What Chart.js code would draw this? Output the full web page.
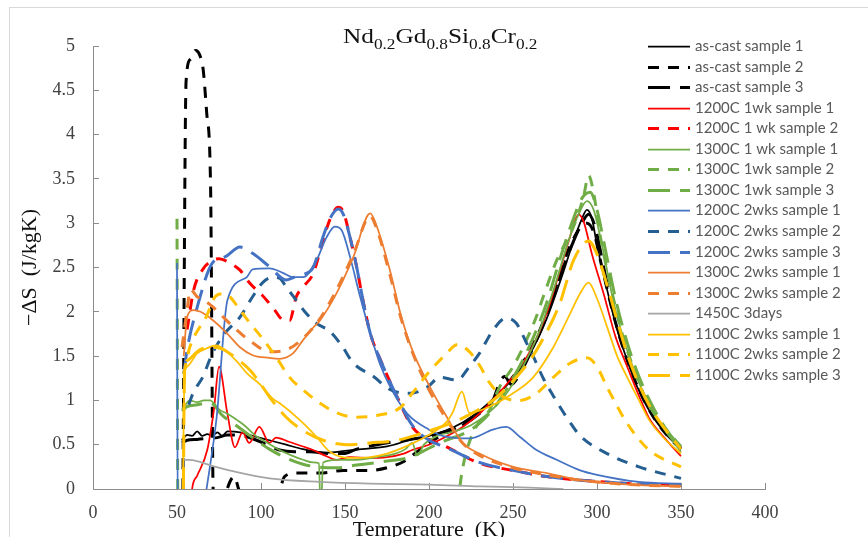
<!DOCTYPE html>
<html>
<head>
<meta charset="utf-8">
<script src="https://cdn.jsdelivr.net/npm/chart.js@4.4.1/dist/chart.umd.min.js"></script>
<style>
  html, body { margin: 0; padding: 0; background: #fff; }
  #wrap { width: 868px; height: 537px; }
</style>
</head>
<body>
<div id="wrap"><canvas id="myChart" width="868" height="537"></canvas></div>
<script>
// series names, in legend order
const seriesNames = [
  'as-cast sample 1', 'as-cast sample 2', 'as-cast sample 3',
  '1200C 1wk sample 1', '1200C 1 wk sample 2',
  '1300C 1 wk sample 1', '1300C 1wk sample 2', '1300C 1wk sample 3',
  '1200C 2wks sample 1', '1200C 2wks sample 2', '1200C 2wks sample 3',
  '1300C 2wks sample 1', '1300C 2wks sample 2',
  '1450C 3days',
  '1100C 2wks sample 1', '1100C 2wks sample 2', '1100C 2wks sample 3'
];

// [temperature K, -dS J/kgK]
const asCast1 = [[53,0.55],[56,0.61],[59,0.6],[62,0.65],[65,0.6],[68,0.62],[71,0.6],[74,0.64],[77,0.6],[80,0.65],[87.5,0.64],[95,0.6],[105,0.55],[115,0.5],[125,0.45],[139,0.41],[150,0.43],[160,0.45],[175,0.48],[190,0.56],[200,0.6],[210,0.66],[220,0.75],[230,0.88],[240,1.05],[250,1.25],[260,1.52],[270,1.92],[280,2.45],[286,2.8],[291,3.05],[294,3.15],[297,3.05],[300,2.75],[306,2.25],[312,1.8],[318,1.45],[324,1.15],[330,0.92],[340,0.64],[350,0.45]];
const asCast2 = [[53.5,0],[55.4,4.6],[58,4.85],[61,4.95],[63.5,4.9],[65.6,4.73],[67.7,4.24],[70,3.4],[71.5,0],[73,-0.3],[84,0.14],[88,-0.05],[110,-0.05],[114,0.14],[121,0.18],[135,0.18],[149,0.21],[165,0.21],[175,0.24],[185,0.31],[195,0.45],[205,0.58],[215,0.68],[225,0.8],[235,0.95],[245,1.15],[255,1.4],[265,1.75],[275,2.25],[283,2.7],[290,2.95],[294,3.0],[298,2.9],[303,2.5],[310,1.95],[318,1.45],[326,1.08],[334,0.8],[342,0.6],[350,0.45]];
const asCast3 = [[53,0.52],[56,0.55],[62,0.56],[68,0.57],[74,0.58],[80,0.61],[91.5,0.59],[103.6,0.5],[111,0.44],[120,0.42],[129,0.42],[141,0.4],[149,0.4],[157,0.45],[169,0.5],[185,0.55],[199,0.59],[210,0.65],[220,0.72],[230,0.85],[238,1.0],[242,1.2],[245,1.27],[249,1.18],[254,1.3],[262,1.6],[270,1.95],[278,2.4],[285,2.75],[291,3.0],[295,3.1],[299,2.95],[304,2.5],[311,1.9],[318,1.48],[326,1.12],[334,0.84],[342,0.62],[350,0.46]];
const wk1200s1 = [[57,-0.5],[59,0],[62,0.15],[68,0.44],[72,0.9],[75,1.38],[80,0.85],[84.5,0.47],[89,0.64],[93,0.52],[99,0.7],[105,0.52],[109,0.58],[117,0.53],[125,0.48],[131,0.44],[139,0.37],[145,0.33],[153,0.36],[165,0.35],[175,0.36],[185,0.4],[190,0.44],[200,0.5],[210,0.59],[220,0.7],[230,0.85],[240,1.05],[250,1.27],[260,1.55],[270,1.98],[278,2.47],[284,2.85],[289,3.1],[292,3.02],[297,2.65],[304,2.2],[311,1.72],[318,1.38],[325,1.05],[331,0.8],[340,0.58],[350,0.37]];
const wk1200s2 = [[56,1.8],[60,2.25],[65,2.47],[71,2.58],[75,2.6],[81.5,2.55],[87.5,2.47],[93.5,2.32],[100.6,2.19],[107,2.05],[114,1.9],[117,1.9],[121,2.17],[125,2.28],[131,2.43],[137,2.81],[141,3.04],[146,3.18],[149,3.13],[153,2.84],[157,2.5],[161,2.1],[165,1.76],[171,1.46],[181,1.04],[190,0.7],[200,0.56],[210,0.48],[230,0.29],[250,0.21],[270,0.14],[290,0.1],[320,0.06],[350,0.04]];
const wk1300s1 = [[53,0.9],[55,0.95],[57.5,1.0],[62,0.98],[66,1.0],[69.6,1.0],[75.6,0.89],[80,0.85],[85.6,0.78],[90,0.72],[97.6,0.59],[104,0.52],[111,0.44],[118,0.38],[125,0.33],[131,0.3],[134.5,0.29],[135.5,-0.3],[137,0.3],[145,0.33],[157,0.33],[169,0.36],[180,0.4],[186,0.45],[190,0.52],[193,0.38],[197,0.5],[205,0.6],[215,0.65],[225,0.72],[235,0.85],[245,1.05],[255,1.35],[265,1.75],[275,2.3],[283,2.8],[289,3.1],[294,3.25],[298,3.15],[303,2.75],[310,2.1],[317,1.62],[325,1.2],[333,0.88],[342,0.62],[350,0.42]];
const wk1300s2 = [[50,3.05],[50.6,-0.5],[216,-0.5],[218.5,0.04],[222,0.4],[228,0.7],[236,0.89],[242,1.15],[250,1.38],[258,1.68],[264,1.95],[268,2.17],[276,2.58],[286,2.96],[292,3.3],[295,3.54],[298,3.34],[302,2.85],[308,2.3],[315,1.75],[322,1.35],[330,0.98],[340,0.7],[350,0.48]];
const wk1300s3 = [[53,0.88],[56,0.93],[62,0.95],[67.6,0.97],[72,0.95],[76,0.85],[85,0.72],[95,0.58],[105,0.45],[115,0.35],[125,0.28],[133,0.25],[145,0.24],[157,0.27],[173,0.31],[189,0.36],[200,0.46],[210,0.55],[220,0.62],[230,0.74],[240,0.95],[250,1.25],[260,1.62],[270,2.1],[278,2.6],[285,3.0],[291,3.28],[296,3.35],[300,3.15],[305,2.7],[311,2.15],[318,1.65],[326,1.22],[334,0.9],[342,0.65],[350,0.47]];
const wks1200s1 = [[50,2.55],[50.5,-0.5],[66,-0.2],[67.6,0],[73.6,0.81],[80,2.13],[91.5,2.39],[95,2.48],[105,2.49],[113,2.44],[119,2.39],[125,2.39],[133,2.58],[139,2.84],[144,2.96],[148,2.92],[153,2.62],[159,2.17],[165,1.76],[171,1.4],[177,1.15],[187,0.85],[200,0.67],[210,0.59],[224,0.57],[238,0.67],[246,0.7],[254,0.59],[264,0.44],[276,0.33],[290,0.21],[300,0.16],[325,0.08],[350,0.06]];
const wks1200s2 = [[57,0.95],[59.5,1.08],[65.5,1.27],[71,1.53],[78.6,1.76],[87.5,1.94],[95,2.17],[101,2.33],[107,2.39],[111,2.38],[115,2.28],[121,2.13],[127,1.98],[133,1.87],[141,1.78],[148,1.62],[155,1.42],[167,1.27],[177,1.12],[189,1.08],[199,1.15],[206.5,1.26],[216.7,1.23],[224,1.38],[230,1.53],[238,1.79],[246,1.93],[252,1.87],[258,1.65],[262,1.5],[268,1.25],[274,1.05],[284,0.75],[290,0.6],[306,0.4],[325,0.25],[350,0.12]];
const wks1200s3 = [[54,1.3],[56,1.57],[62,2.05],[71,2.55],[78.6,2.62],[87.5,2.73],[95,2.66],[105,2.51],[115,2.36],[121,2.4],[125,2.42],[131,2.5],[137,2.85],[141,3.05],[146,3.16],[149,3.1],[153,2.84],[157,2.5],[161,2.1],[165,1.76],[171,1.46],[181,1.04],[190,0.72],[200,0.55],[210,0.47],[230,0.3],[250,0.21],[270,0.14],[290,0.1],[320,0.06],[350,0.04]];
const wks1300s1 = [[54,1.5],[56,1.94],[60,2.02],[64,2.0],[71,1.91],[79.6,1.76],[87.5,1.6],[95,1.51],[105,1.48],[111,1.47],[119,1.53],[125,1.68],[131,1.82],[135,1.9],[145,2.21],[155,2.62],[165,3.11],[169,2.96],[177,2.45],[183,1.98],[190,1.57],[200.6,1.15],[210.7,0.81],[220,0.52],[230,0.4],[250,0.25],[270,0.18],[290,0.1],[320,0.05],[350,0.03]];
const wks1300s2 = [[53,1.6],[56,2.02],[58,2.25],[62,2.17],[66,2.13],[71,2.06],[83.5,1.83],[95,1.65],[105,1.55],[115,1.57],[125,1.7],[135,1.92],[145,2.25],[155,2.65],[165,3.08],[169,2.93],[177,2.4],[183,1.95],[190,1.55],[200,1.12],[210,0.8],[220,0.52],[230,0.38],[250,0.24],[270,0.16],[290,0.1],[320,0.05],[350,0.03]];
const days1450 = [[54,0.33],[57.6,0.33],[71,0.26],[85.6,0.19],[105,0.12],[135,0.08],[165,0.06],[200,0.05],[230,0.03],[260,0.015],[280,0]];
const wks1100s1 = [[53.5,0],[54.5,1.3],[56,1.38],[62,1.53],[68,1.59],[73.6,1.62],[79.6,1.55],[85.6,1.44],[92,1.3],[99.4,1.18],[107,1.02],[111,0.97],[123,0.78],[133,0.59],[141,0.42],[153,0.35],[165,0.36],[175,0.4],[185,0.47],[199,0.6],[210,0.75],[214,0.86],[219.6,1.1],[224,0.86],[236,0.93],[250,1.08],[262,1.26],[274,1.6],[284,1.98],[290,2.21],[295,2.33],[300,2.15],[306,1.83],[312,1.5],[318,1.26],[325,1.0],[331,0.78],[340,0.57],[350,0.4]];
const wks1100s2 = [[54,1.3],[57.6,1.6],[63.6,1.83],[67.6,1.95],[72,2.15],[76,2.2],[80,2.19],[86,2.06],[93.5,1.87],[100,1.72],[109,1.49],[117,1.26],[125,1.12],[135,0.97],[145,0.86],[157,0.81],[169,0.83],[183,0.92],[190,1.08],[200,1.32],[210,1.52],[217,1.63],[224,1.55],[230,1.4],[236,1.2],[244,1.04],[254,1.0],[264,1.08],[274,1.26],[284,1.42],[294,1.48],[300,1.38],[306,1.15],[318,0.74],[331,0.44],[350,0.25]];
const wks1100s3 = [[53.8,0],[54.5,1.35],[56,1.45],[63.6,1.57],[71,1.6],[77,1.58],[85,1.48],[93.5,1.34],[100,1.18],[105,1.04],[115,0.81],[125,0.66],[137,0.55],[151,0.5],[165,0.52],[181,0.55],[196,0.63],[210,0.72],[220,0.8],[230,0.9],[240,1.03],[250,1.22],[260,1.45],[268,1.7],[278,2.1],[286,2.58],[295,2.8],[300,2.65],[306,2.3],[312,1.9],[318,1.52],[325,1.18],[333,0.88],[342,0.64],[350,0.45]];

const seriesData = [asCast1, asCast2, asCast3, wk1200s1, wk1200s2, wk1300s1, wk1300s2, wk1300s3,
  wks1200s1, wks1200s2, wks1200s3, wks1300s1, wks1300s2, days1450, wks1100s1, wks1100s2, wks1100s3];

const xTicks = { min: 0, max: 400, step: 50 };
const yTicks = { min: 0, max: 5, step: 0.5 };

const SOLID = [], DASH = [11, 9], LONGDASH = [22, 10];
const lineStyles = [
  ['#000000', SOLID], ['#000000', DASH], ['#000000', LONGDASH],
  ['#ff0000', SOLID], ['#ff0000', DASH],
  ['#70ad47', SOLID], ['#70ad47', DASH], ['#70ad47', LONGDASH],
  ['#4472c4', SOLID], ['#255e91', DASH], ['#4472c4', LONGDASH],
  ['#ed7d31', SOLID], ['#ed7d31', DASH],
  ['#a5a5a5', SOLID],
  ['#ffc000', SOLID], ['#ffc000', DASH], ['#ffc000', LONGDASH]
];

const datasets = seriesData.map((pts, i) => ({
  label: seriesNames[i],
  data: pts.map(p => ({ x: p[0], y: p[1] })),
  borderColor: lineStyles[i][0],
  borderDash: lineStyles[i][1],
  borderWidth: lineStyles[i][1].length ? 3 : 1.75,
  order: -i
}));

const axisGray = '#8c8c8c';
const serif = 'Liberation Serif';

const overlay = {
  id: 'overlay',
  beforeDraw(chart) {
    const c = chart.ctx;
    c.save();
    c.fillStyle = '#fff';
    c.fillRect(0, 0, chart.width, chart.height);
    c.strokeStyle = '#d9d9d9';
    c.lineWidth = 1;
    c.strokeRect(9.5, 7.5, chart.width, chart.height);
    c.restore();
  },
  afterDraw(chart) {
    const c = chart.ctx;
    // title with subscripts
    const parts = [['Nd', 0], ['0.2', 1], ['Gd', 0], ['0.8', 1], ['Si', 0], ['0.8', 1], ['Cr', 0], ['0.2', 1]];
    c.save();
    c.translate(343, 43);
    c.scale(1.15, 1);
    c.fillStyle = '#111';
    c.textBaseline = 'alphabetic';
    let x = 0;
    parts.forEach(([t, sub]) => {
      c.font = (sub ? '15px ' : '22px ') + serif;
      c.fillText(t, x, sub ? 6 : 0);
      x += c.measureText(t).width;
    });
    c.restore();

    // legend
    c.save();
    c.font = '15px Lato';
    c.textBaseline = 'middle';
    chart.data.datasets.forEach((ds, i) => {
      const y = Math.round(46 + i * 20.56) + 0.5;
      c.beginPath();
      c.strokeStyle = ds.borderColor;
      c.lineWidth = ds.borderWidth;
      c.setLineDash(ds.borderDash);
      c.moveTo(648, y);
      c.lineTo(690, y);
      c.stroke();
      c.fillStyle = '#595959';
      c.fillText(ds.label, 695, y);
    });
    c.restore();
  }
};

new Chart(document.getElementById('myChart'), {
  type: 'line',
  data: { datasets },
  plugins: [overlay],
  options: {
    responsive: false,
    animation: false,
    devicePixelRatio: 1,
    layout: { padding: { left: 0, top: 46, right: 103, bottom: 0 } },
    elements: {
      point: { radius: 0 },
      line: { cubicInterpolationMode: 'monotone', fill: false }
    },
    plugins: {
      legend: { display: false },
      tooltip: { enabled: false }
    },
    scales: {
      x: {
        type: 'linear',
        min: xTicks.min, max: xTicks.max,
        ticks: { stepSize: xTicks.step, padding: 19, color: '#404040', font: { family: serif, size: 18 } },
        grid: { drawOnChartArea: false, tickLength: -6, color: axisGray },
        border: { color: axisGray },
        title: { display: true, text: 'Temperature  (K)', color: '#111', font: { family: serif, size: 22 }, padding: { top: 0, bottom: -6 } },
        afterFit(s) { s.height = 48; }
      },
      y: {
        min: yTicks.min, max: yTicks.max,
        ticks: { stepSize: yTicks.step, padding: 24, color: '#404040', font: { family: serif, size: 18 },
          callback: v => String(Math.round(v * 10) / 10) },
        grid: { drawOnChartArea: false, tickLength: -6, color: axisGray },
        border: { color: axisGray },
        title: { display: true, text: '\u2212\u0394S  (J/kgK)', color: '#111', font: { family: serif, size: 22 }, padding: { top: 17, bottom: 0 } },
        afterFit(s) { s.width = 93; }
      }
    }
  }
});
</script>
</body>
</html>
